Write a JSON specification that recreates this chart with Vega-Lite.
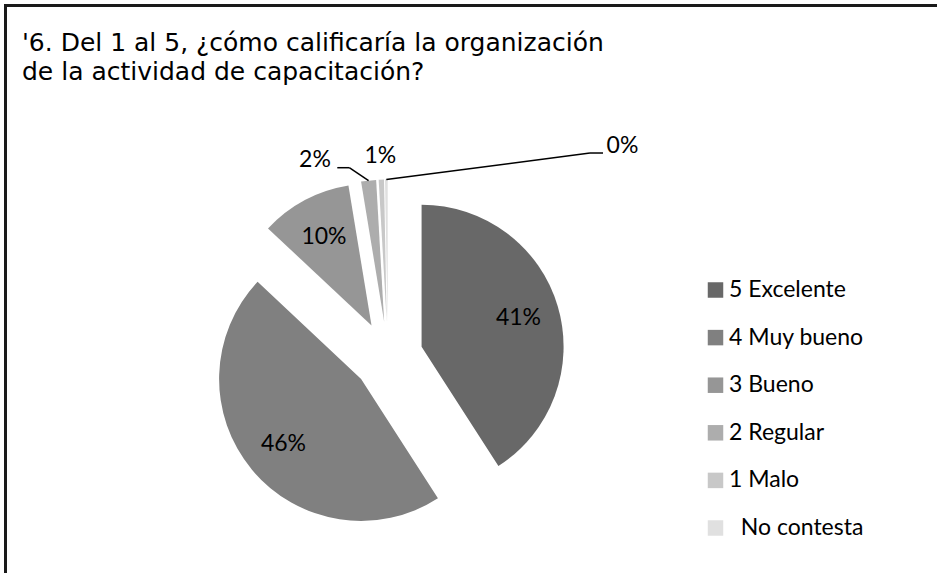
{
  "$schema": "https://vega.github.io/schema/vega-lite/v6.json",
  "autosize": {"type": "none"},
  "padding": {"left": 5.5, "top": 5.5, "right": 0, "bottom": 0},
  "width": 940,
  "height": 580,
  "background": "white",
  "title": {
    "text": ["'6. Del 1 al 5, ¿cómo calificaría la organización", "de la actividad de capacitación?"],
    "anchor": "start",
    "frame": "group",
    "offset": -79,
    "dx": 16.5,
    "font": "DejaVu Sans",
    "fontSize": 25,
    "fontWeight": "normal",
    "color": "#000000",
    "lineHeight": 29
  },
  "config": {
    "view": {"stroke": "#1a1a1a", "strokeWidth": 3},
    "text": {"font": "Lato"}
  },
  "data": {
    "values": [
      {"categoria": "5 Excelente", "valor": 40.9},
      {"categoria": "4 Muy bueno", "valor": 46.1},
      {"categoria": "3 Bueno", "valor": 10.4},
      {"categoria": "2 Regular", "valor": 1.7},
      {"categoria": "1 Malo", "valor": 0.6},
      {"categoria": "No contesta", "valor": 0.3}
    ]
  },
  "transform": [
    {"window": [{"op": "sum", "field": "valor", "as": "cum"}], "frame": [null, 0]},
    {"calculate": "datum.cum - datum.valor", "as": "start"},
    {"calculate": "datum.cum - datum.valor / 2", "as": "midp"},
    {"calculate": "datum.valor / 100", "as": "frac"},
    {"calculate": "datum.midp / 100 * 2 * PI", "as": "ang"},
    {"calculate": "sin(datum.ang)", "as": "ex"},
    {"calculate": "-cos(datum.ang)", "as": "ey"},
    {"calculate": "5.057 * sin(datum.ang)", "as": "sx"},
    {"calculate": "-5.057 * cos(datum.ang)", "as": "sy"}
  ],
  "encoding": {
    "x": {"field": "ex", "type": "quantitative", "scale": {"domain": [-1, 1], "range": [347.5, 417.5], "zero": false, "nice": false}, "axis": null},
    "y": {"field": "ey", "type": "quantitative", "scale": {"domain": [-1, 1], "range": [316, 386], "zero": false, "nice": false}, "axis": null}
  },
  "layer": [
    {
      "mark": {"type": "arc", "outerRadius": 142, "stroke": null},
      "encoding": {
        "theta": {"field": "start", "type": "quantitative", "stack": null, "scale": {"domain": [0, 100], "range": [0, 6.283185307179586]}},
        "theta2": {"field": "cum"},
        "color": {
          "field": "categoria",
          "type": "nominal",
          "scale": {
            "domain": ["5 Excelente", "4 Muy bueno", "3 Bueno", "2 Regular", "1 Malo", "No contesta"],
            "range": ["#686868", "#808080", "#969696", "#adadad", "#c8c8c8", "#e0e0e0"]
          },
          "legend": {
            "title": null,
            "orient": "none",
            "legendX": 698.5,
            "legendY": 273,
            "padding": 0,
            "symbolType": "square",
            "symbolSize": 240,
            "symbolStrokeWidth": 0,
            "symbolOffset": 0,
            "labelFont": "Lato",
            "labelFontSize": 23,
            "labelColor": "#000000",
            "labelOffset": 2,
            "rowPadding": 23.6,
            "labelExpr": "datum.label == 'No contesta' ? '\u200b\u00a0\u00a0No contesta' : datum.label"
          }
        }
      }
    },
    {
      "transform": [{"filter": "datum.valor >= 5"}],
      "mark": {"type": "text", "radius": 101, "fontSize": 23, "color": "#000000", "align": "center", "baseline": "middle"},
      "encoding": {
        "theta": {"field": "midp", "type": "quantitative"},
        "text": {"field": "frac", "type": "quantitative", "format": ".0%"}
      }
    },
    {
      "transform": [{"filter": "datum.categoria == '1 Malo'"}],
      "mark": {"type": "text", "radius": 166, "fontSize": 23, "color": "#000000", "align": "center", "baseline": "middle"},
      "encoding": {
        "theta": {"field": "midp", "type": "quantitative"},
        "text": {"field": "frac", "type": "quantitative", "format": ".0%"}
      }
    },
    {
      "transform": [{"filter": "datum.categoria == '2 Regular'"}],
      "mark": {"type": "text", "fontSize": 23, "color": "#000000", "align": "center", "baseline": "middle"},
      "encoding": {
        "x": {"datum": -2.086},
        "y": {"datum": -5.614},
        "text": {"field": "frac", "type": "quantitative", "format": ".0%"}
      }
    },
    {
      "transform": [{"filter": "datum.categoria == 'No contesta'"}],
      "mark": {"type": "text", "fontSize": 23, "color": "#000000", "align": "center", "baseline": "middle"},
      "encoding": {
        "x": {"datum": 6.7},
        "y": {"datum": -6.014},
        "text": {"field": "frac", "type": "quantitative", "format": ".0%"}
      }
    },
    {
      "transform": [{"filter": "datum.categoria == '2 Regular'"}],
      "mark": {"type": "rule", "color": "#000000", "strokeWidth": 1.5},
      "encoding": {
        "x": {"field": "sx", "type": "quantitative"},
        "y": {"field": "sy", "type": "quantitative"},
        "x2": {"datum": -1.106},
        "y2": {"datum": -5.394}
      }
    },
    {
      "transform": [{"filter": "datum.categoria == '2 Regular'"}],
      "mark": {"type": "rule", "color": "#000000", "strokeWidth": 1.5},
      "encoding": {
        "x": {"datum": -1.106},
        "x2": {"datum": -1.449},
        "y": {"datum": -5.394}
      }
    },
    {
      "transform": [{"filter": "datum.categoria == 'No contesta'"}],
      "mark": {"type": "rule", "color": "#000000", "strokeWidth": 1.5},
      "encoding": {
        "x": {"field": "sx", "type": "quantitative"},
        "y": {"field": "sy", "type": "quantitative"},
        "x2": {"datum": 5.771},
        "y2": {"datum": -5.814}
      }
    },
    {
      "transform": [{"filter": "datum.categoria == 'No contesta'"}],
      "mark": {"type": "rule", "color": "#000000", "strokeWidth": 1.5},
      "encoding": {
        "x": {"datum": 5.771},
        "x2": {"datum": 6.143},
        "y": {"datum": -5.814}
      }
    }
  ]
}
